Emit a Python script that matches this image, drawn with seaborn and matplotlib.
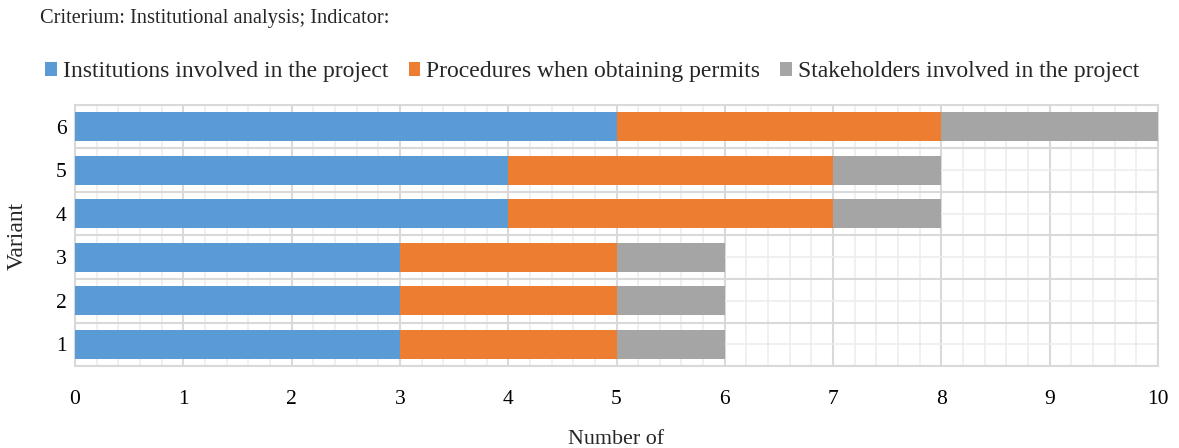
import matplotlib
matplotlib.use("Agg")
import matplotlib.pyplot as plt
import seaborn as sns
import pandas as pd
import numpy as np
from matplotlib.ticker import MultipleLocator

variants = ["1", "2", "3", "4", "5", "6"]
institutions = [3, 3, 3, 4, 4, 5]
procedures = [2, 2, 2, 3, 3, 3]
stakeholders = [1, 1, 1, 1, 1, 2]
series_names = ["Institutions involved in the project",
                "Procedures when obtaining permits",
                "Stakeholders involved in the project"]
colors = ["#5B9BD5", "#ED7D31", "#A5A5A5"]
title = "Criterium: Institutional analysis; Indicator:"
xlabel = "Number of"
ylabel = "Variant"

sns.set_theme(style="white")
plt.rcParams["font.family"] = ["Liberation Serif", "DejaVu Serif"]

df = pd.DataFrame({"variant": variants,
                   "s1": institutions, "s2": procedures, "s3": stakeholders})
df["c1"] = df["s1"]
df["c2"] = df["s1"] + df["s2"]
df["c3"] = df["s1"] + df["s2"] + df["s3"]
order = variants[::-1]

fig = plt.figure(figsize=(11.79, 4.48), dpi=100)
ax = fig.add_axes([75/1179, 1-366/448, (1158-75)/1179, (366-105)/448])

for col, c, name in [("c3", colors[2], series_names[2]),
                     ("c2", colors[1], series_names[1]),
                     ("c1", colors[0], series_names[0])]:
    sns.barplot(data=df, x=col, y="variant", order=order, color=c,
                width=0.67, label=name, ax=ax, saturation=1, zorder=3,
                linewidth=0, legend=False)
if ax.get_legend() is not None:
    ax.get_legend().remove()

ax.set_xlim(0, 10)
ax.set_ylim(len(order) - 0.5, -0.5)
ax.xaxis.set_major_locator(MultipleLocator(1))
ax.xaxis.set_minor_locator(MultipleLocator(0.2))
n = len(order)
ax.set_yticks(np.arange(-0.5, n, 1.0))
ax.set_yticklabels([])
ax.set_yticks(np.arange(n), labels=order, minor=True)
ax.grid(True, which="major", color="#D9D9D9", linewidth=1.5, zorder=0)
ax.grid(True, which="minor", color="#EDEDED", linewidth=1.2, zorder=0)
ax.set_axisbelow(True)
ax.tick_params(axis="x", which="both", length=0, labelsize=15.5, pad=17, colors="#000000")
ax.tick_params(axis="y", which="both", length=0, labelsize=15.5, pad=6, colors="#000000")
for s in ax.spines.values():
    s.set_color("#D9D9D9")
    s.set_linewidth(1.5)
ax.set_xlabel(xlabel, fontsize=15.8)
ax.set_ylabel(ylabel, fontsize=17)
ax.xaxis.set_label_coords(0.5, -0.245)
ax.yaxis.set_label_coords(-0.044, 0.5)

fig.text(40/1179, 1-18/448, title, fontsize=14.7, va="center", ha="left")

handles, labels = ax.get_legend_handles_labels()
hmap = dict(zip(labels, handles))
fig.legend([hmap[nm] for nm in series_names], series_names, loc="center left",
           bbox_to_anchor=(36/1179, 1-72/448), ncol=3, frameon=False,
           fontsize=17, handlelength=0.5, handleheight=0.5,
           handletextpad=0.25, columnspacing=0.85, borderaxespad=0)

fig.savefig("out.png", dpi=100)
